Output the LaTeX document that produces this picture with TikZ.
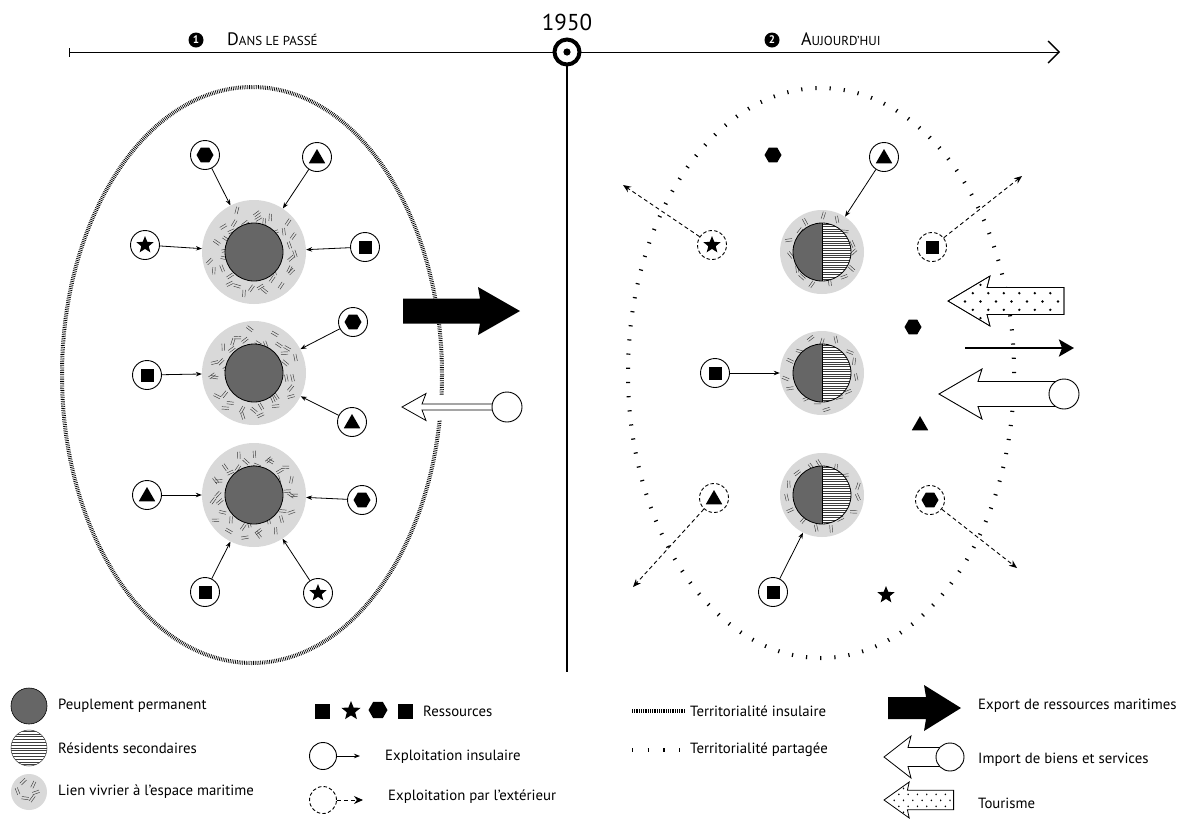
\documentclass[tikz,border=0pt]{standalone}
\usepackage{fontspec}
\setmainfont{PT Sans}
\usetikzlibrary{arrows.meta,shapes.geometric,calc}
\definecolor{ringgrey}{HTML}{D9D9D9}
\definecolor{popgrey}{HTML}{666666}
\definecolor{markgrey}{HTML}{3C3C3C}
\tikzset{
 res/.style={circle,draw,line width=0.9pt,minimum size=29pt,inner sep=0pt,fill=white},
 resd/.style={res,dash pattern=on 3.5pt off 2.2pt},
 hexs/.style={regular polygon,regular polygon sides=6,fill=black,minimum size=17pt,inner sep=0pt},
 tris/.style={regular polygon,regular polygon sides=3,fill=black,minimum size=19pt,inner sep=0pt,yshift=-1.5pt},
 sqs/.style={rectangle,fill=black,minimum size=13pt,inner sep=0pt},
 stars/.style={star,star points=5,star point ratio=2.3,fill=black,minimum size=18pt,inner sep=0pt},
 ringL/.style={circle,fill=ringgrey,minimum size=104pt,inner sep=0pt},
 ringR/.style={circle,fill=ringgrey,minimum size=84pt,inner sep=0pt},
 mk/.style={draw=markgrey,line width=0.45pt},
 exparr/.style={-{Stealth[length=6pt,width=4.5pt]},line width=0.8pt},
 extarr/.style={dash pattern=on 4pt off 3pt,-{Stealth[length=8pt,width=6.5pt]},line width=0.9pt},
 insul/.style={line width=4pt,dash pattern=on 0.7pt off 1.1pt},
 partag/.style={line width=4pt,dash pattern=on 1.2pt off 13pt},
 lbl/.style={anchor=west,inner sep=0pt,font=\fontsize{14.8}{17}\selectfont},
 bullet/.style={circle,fill=black,inner sep=0pt,minimum size=15pt,text=white,font=\fontsize{11}{11}\selectfont\bfseries},
}
\newcommand\ringmarks[5]{%
 \foreach \k in {1,...,#5}{%
   \pgfmathsetmacro\mang{\k*360/#5+rnd*12}%
   \pgfmathsetmacro\mrad{#3+rnd*(#4-#3)}%
   \pgfmathsetmacro\mrot{rnd*180}%
   \draw[mk,shift={(#1,#2)},shift={(\mang:\mrad)},rotate=\mrot] (-3.6,-1.2)--(3.6,-1.2) (-3.6,1.2)--(3.6,1.2);
 }}
\newcommand\islL[3]{%
 \node[ringL] (#1) at (#2,#3) {};
 \ringmarks{#2}{#3}{28}{40}{20}
 \ringmarks{#2}{#3}{38}{47}{15}
 \filldraw[fill=popgrey,draw=black,line width=0.8pt] (#2,#3) circle (29pt);
}
\newcommand\islR[3]{%
 \node[ringR] (#1) at (#2,#3) {};
 \ringmarks{#2}{#3}{30}{37}{15}
 \begin{scope}
  \clip (#2,#3) circle (29pt);
  \fill[popgrey] (#2-30,#3-30) rectangle (#2,#3+30);
  \fill[white] (#2,#3-30) rectangle (#2+30,#3+30);
  \foreach \hy in {-28,-25.6,...,28} \draw[line width=0.4pt,markgrey] (#2,#3+\hy) -- (#2+30,#3+\hy);
 \end{scope}
 \draw[line width=0.8pt] (#2,#3-29) -- (#2,#3+29);
 \draw[line width=0.8pt] (#2,#3) circle (29pt);
}
\newcommand\resn[5]{%
 \node[#5] (#1) at (#2,#3) {};
 \node[#4] (#1s) at (#1) {};
}
\newcommand\tourdots{%
 \foreach \j in {0,...,4}{%
  \foreach \i in {0,...,7}{%
   \pgfmathsetmacro\dotx{965+7.75*mod(\j,2)+15.5*\i}%
   \pgfmathsetmacro\doty{284.9+8.3*\j}%
   \fill (\dotx,\doty) circle (1.3);
 }}}
\begin{document}
\begin{tikzpicture}[x=1pt,y=-1pt]
\useasboundingbox (0,0) rectangle (1187,823);
\fill[white] (0,0) rectangle (1187,823);
\pgfmathsetseed{11}
% ---------- timeline
\coordinate (t0) at (69,52);
\coordinate (t1) at (1060,52);
\coordinate (vb) at (567,672);
\draw[line width=1pt,{Bar[width=9pt,line width=1pt]}-{Straight Barb[length=11pt,width=22pt,line width=1.4pt]}] (t0) -- (t1);
\draw[line width=1.3pt] (567,52) -- (vb);
\node[circle,draw,line width=4pt,fill=white,minimum size=25pt,inner sep=0pt] (y1950) at (567,52) {};
\fill (567,52) circle (3.6);
\node[font=\fontsize{23}{26}\selectfont] (ytxt) at (567,22) {1950};
\node[bullet] (b1) at (196,40) {1};
\node[anchor=base west,inner sep=0pt] (h1) at (227,45) {{\fontsize{18}{18}\selectfont D}{\fontsize{13}{13}\selectfont ANS LE PASSÉ}};
\node[bullet] (b2) at (772,40) {2};
\node[anchor=base west,inner sep=0pt] (h2) at (801,45) {{\fontsize{18}{18}\selectfont A}{\fontsize{13}{13}\selectfont UJOURD’HUI}};
% ---------- territories
\draw[insul] (252,375) ellipse [x radius=190pt,y radius=288pt];
\draw[partag] (821,373) ellipse [x radius=193pt,y radius=285pt];
% ---------- left islands
\islL{L1}{254}{252}
\islL{L2}{254}{373}
\islL{L3}{254}{495}
\resn{L1h}{205}{155}{hexs}{res}
\resn{L1t}{317}{157}{tris}{res}
\resn{L1s}{145}{245}{stars}{res}
\resn{L1q}{365}{247}{sqs}{res}
\resn{L2h}{353}{322}{hexs}{res}
\resn{L2q}{147}{375}{sqs}{res}
\resn{L2t}{352}{422}{tris}{res}
\resn{L3t}{147}{495}{tris}{res}
\resn{L3h}{362}{500}{hexs}{res}
\resn{L3q}{205}{592}{sqs}{res}
\resn{L3s}{318}{593}{stars}{res}
\foreach \a/\b in {L1h/L1,L1t/L1,L1s/L1,L1q/L1,L2h/L2,L2q/L2,L2t/L2,L3t/L3,L3h/L3,L3q/L3,L3s/L3}
  \draw[exparr] (\a) -- (\b);
% export arrow (left)
\fill (403,298.5) -- (480,298.5) -- (478,287) -- (520,311) -- (478,335) -- (480,323.5) -- (403,323.5) -- cycle;
% import arrow (left)
\fill[white] (432,395) rectangle (451,420);
\draw[fill=white,line width=0.8pt,line join=miter] (402,407) -- (426,393.5) -- (422,404) -- (500,404) -- (500,410) -- (422,410) -- (426,420.5) -- cycle;
\node[circle,draw,fill=white,line width=0.9pt,minimum size=30pt,inner sep=0pt] (impL) at (507,407) {};
% ---------- right islands
\islR{R1}{822}{252}
\islR{R2}{822}{373}
\islR{R3}{822}{495}
\node[hexs] (Rh1) at (773,155) {};
\resn{R1t}{884}{157}{tris}{res}
\resn{R1s}{712}{245}{stars}{resd}
\resn{R1q}{932}{247}{sqs}{resd}
\node[hexs] (Rh2) at (913,327) {};
\resn{R2q}{715}{373}{sqs}{res}
\node[tris] (Rt2) at (920,424) {};
\resn{R3t}{714}{498}{tris}{resd}
\resn{R3h}{930}{500}{hexs}{resd}
\resn{R3q}{773}{592}{sqs}{res}
\node[stars] (Rs3) at (886,595) {};
\draw[exparr] (R1t) -- (R1);
\draw[exparr] (R2q) -- (R2);
\draw[exparr] (R3q) -- (R3);
\coordinate (oS) at (623,185);
\coordinate (oQ) at (1022,176);
\coordinate (oT) at (633,587);
\coordinate (oH) at (1017,568);
\draw[extarr] (R1s) -- (oS);
\draw[extarr] (R1q) -- (oQ);
\draw[extarr] (R3t) -- (oT);
\draw[extarr] (R3h) -- (oH);
% tourism arrow (right)
\draw[fill=white,line width=0.7pt] (948,301) -- (990,276) -- (987,287.5) -- (1064,287.5) -- (1064,314.5) -- (987,314.5) -- (990,326) -- cycle;
\begin{scope}
 \clip (948,301) -- (990,276) -- (987,287.5) -- (1064,287.5) -- (1064,314.5) -- (987,314.5) -- (990,326) -- cycle;
 \tourdots
\end{scope}
\draw[line width=0.7pt] (948,301) -- (990,276) -- (987,287.5) -- (1064,287.5) -- (1064,314.5) -- (987,314.5) -- (990,326) -- cycle;
% export thin black arrow
\coordinate (bA) at (965,348);
\coordinate (bB) at (1074,348);
\draw[line width=2.8pt,-{Stealth[length=15pt,width=17pt,inset=3pt]}] (bA) -- (bB);
% import arrow (right)
\draw[fill=white,line width=0.9pt] (939,394) -- (982,369) -- (978,381.5) -- (1064,381.5) -- (1064,406.5) -- (978,406.5) -- (982,419) -- cycle;
\node[circle,draw,fill=white,line width=0.9pt,minimum size=30pt,inner sep=0pt] (impR) at (1064,394) {};
% ---------- legend
\node[circle,fill=popgrey,draw=black,line width=0.6pt,minimum size=36pt,inner sep=0pt] (lgPop) at (29,706) {};
\node[lbl] (lgPopT) at (58,706) {Peuplement permanent};
\node[circle,draw=markgrey,line width=0.5pt,minimum size=36pt,inner sep=0pt] (lgRes) at (29,748) {};
\begin{scope}
 \clip (29,748) circle (18pt);
 \foreach \hy in {-17,-14.2,...,17} \draw[markgrey,line width=0.5pt] (10,748+\hy) -- (48,748+\hy);
\end{scope}
\node[lbl] (lgResT) at (58,748) {Résidents secondaires};
\node[circle,fill=ringgrey,minimum size=36pt,inner sep=0pt] (lgLien) at (29,792) {};
\ringmarks{29}{792}{6}{12}{6}
\node[lbl] (lgLienT) at (58,792) {Lien vivrier à l’espace maritime};
% resources
\node[sqs,minimum size=15pt] (lgQ1) at (322,711) {};
\node[stars,minimum size=20pt] (lgS) at (351,711) {};
\node[hexs,minimum size=19pt] (lgH) at (378,710) {};
\node[sqs,minimum size=15pt] (lgQ2) at (405,711) {};
\node[lbl] (lgResrc) at (423,711) {Ressources};
\node[circle,draw,line width=0.9pt,minimum size=27pt,inner sep=0pt] (lgEi) at (323,756) {};
\coordinate (lgEiE) at (360,756);
\draw[exparr] (lgEi) -- (lgEiE);
\node[lbl] (lgEiT) at (385,757) {Exploitation insulaire};
\node[circle,draw,line width=0.9pt,dash pattern=on 3.5pt off 2.2pt,minimum size=27pt,inner sep=0pt] (lgEe) at (323,800) {};
\coordinate (lgEeE) at (363,800);
\draw[extarr,-{Stealth[length=9pt,width=8pt]}] (lgEe) -- (lgEeE);
\node[lbl] (lgEeT) at (388,797) {Exploitation par l’extérieur};
% territoriality
\coordinate (lgI0) at (632,711);
\coordinate (lgI1) at (685,711);
\draw[insul,line width=3.5pt] (lgI0) -- (lgI1);
\node[lbl] (lgIT) at (690,711) {Territorialité insulaire};
\coordinate (lgP0) at (632,750);
\coordinate (lgP1) at (683,750);
\draw[line width=3.5pt,dash pattern=on 1.2pt off 14.5pt] (lgP0) -- (lgP1);
\node[lbl] (lgPT) at (690,750) {Territorialité partagée};
% arrows legend
\fill (888,697) -- (926,697) -- (924,685) -- (961,708) -- (924,731) -- (926,719) -- (888,719) -- cycle;
\node[lbl] (lgExT) at (978,706) {Export de ressources maritimes};
\draw[fill=white,line width=0.8pt] (884,757) -- (911,736) -- (908,747.5) -- (945,747.5) -- (945,766.5) -- (908,766.5) -- (911,778) -- cycle;
\node[circle,draw,fill=white,line width=0.9pt,minimum size=28pt,inner sep=0pt] (lgImC) at (950,757) {};
\node[lbl] (lgImT) at (978,760) {Import de biens et services};
\begin{scope}[shift={(884,800)},xscale=0.6,yscale=0.72,shift={(-948,-301)}]
 \draw[fill=white,line width=0.8pt] (948,301) -- (990,276) -- (987,287.5) -- (1064,287.5) -- (1064,314.5) -- (987,314.5) -- (990,326) -- cycle;
 \begin{scope}
  \clip (948,301) -- (990,276) -- (987,287.5) -- (1064,287.5) -- (1064,314.5) -- (987,314.5) -- (990,326) -- cycle;
  \tourdots
 \end{scope}
\end{scope}
\node[lbl] (lgTouT) at (978,803) {Tourisme};
\end{tikzpicture}
\end{document}
